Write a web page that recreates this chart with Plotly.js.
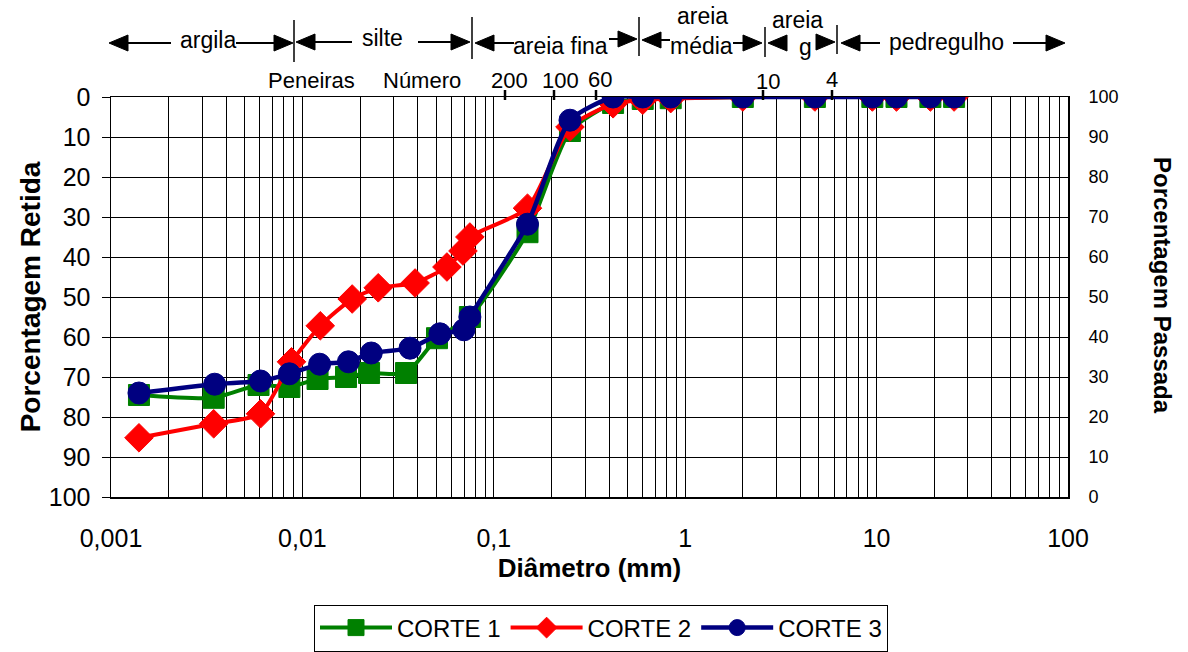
<!DOCTYPE html>
<html>
<head>
<meta charset="utf-8">
<script src="https://cdn.plot.ly/plotly-3.0.1.min.js"></script>
<style>
  html, body { margin: 0; padding: 0; background: #fff; }
  #chart { width: 1188px; height: 652px; }
</style>
</head>
<body>
<div id="chart"></div>
<script>
// ---------- data ----------
const corte1X = [0.0014, 0.00344, 0.0059, 0.00855, 0.012, 0.0169, 0.0223, 0.0348, 0.0505, 0.075, 0.15, 0.25, 0.42, 0.6, 0.84, 2.0, 4.76, 9.5, 12.7, 19.1, 25.4];
const corte1Y = [74.5, 75.2, 72, 72.5, 70.5, 70, 69, 69, 60.3, 55, 33.8, 8.5, 1.5, 0.5, 0.3, 0, 0, 0, 0, 0, 0];

const corte2X = [0.0014, 0.00344, 0.00604, 0.00877, 0.0124, 0.0182, 0.0249, 0.0388, 0.0569, 0.069, 0.075, 0.15, 0.25, 0.42, 0.6, 0.84, 2.0, 4.76, 9.5, 12.7, 19.1, 25.4];
const corte2Y = [85.2, 81.7, 79.2, 66.2, 57.2, 50.5, 47.7, 46.5, 42.5, 38.5, 35, 27.8, 7.5, 1.7, 0.8, 0.4, 0, 0, 0, 0, 0, 0];

const corte3X = [0.0014, 0.00348, 0.00604, 0.00855, 0.0123, 0.0174, 0.0229, 0.0365, 0.0523, 0.0698, 0.075, 0.15, 0.25, 0.42, 0.6, 0.84, 2.0, 4.76, 9.5, 12.7, 19.1, 25.4];
const corte3Y = [74, 71.8, 71, 69.2, 66.8, 66.2, 64, 62.8, 59.2, 58.2, 55, 31.8, 5.8, 0, 0, 0, 0, 0, 0, 0, 0, 0];

const seriesNames = ['CORTE 1', 'CORTE 2', 'CORTE 3'];
const decadeVals = [0.001, 0.01, 0.1, 1, 10, 100];
const decadeText = ['0,001', '0,01', '0,1', '1', '10', '100'];
const leftTicks = [0, 10, 20, 30, 40, 50, 60, 70, 80, 90, 100];

// top band labels (soil classes) and sieve numbers
const bandTexts = ['argila', 'silte', 'areia fina', 'areia', 'média', 'areia', 'g', 'pedregulho'];
const sieveTexts = ['Peneiras', 'Número', '200', '100', '60', '10', '4'];

// ---------- layout geometry ----------
const W = 1188, H = 652;
const M = { l: 111, r: 120, t: 97, b: 155 };
const PW = W - M.l - M.r, PH = H - M.t - M.b;
const px = x => (x - M.l) / PW;
const py = y => (H - M.b - y) / PH;

// grid tick values: every 1..9 per decade
const gridVals = [], gridText = [];
for (let d = -3; d <= 1; d++) {
  for (let k = 1; k <= 9; k++) {
    const v = +(k * Math.pow(10, d)).toPrecision(3);
    gridVals.push(v);
    const i = decadeVals.indexOf(v);
    gridText.push(i >= 0 ? decadeText[i] : '');
  }
}
gridVals.push(100); gridText.push('100');

const shapes = [];
const annotations = [];
const FF = 'Liberation Sans, Arial';

// arrows: [tailX, tipX, y]
const arrows = [
  [171, 109, 43], [236, 293, 43],
  [352, 296, 42], [418, 470, 42],
  [514, 475, 43], [609, 637, 39],
  [670, 642, 40], [733, 762, 43],
  [782, 768, 43], [817, 835, 42],
  [880, 841, 43], [1013, 1065, 43]
];
arrows.forEach(([tail, tip, y]) => {
  const dir = tip > tail ? 1 : -1;
  const base = tip - dir * 19;
  shapes.push({ type: 'line', xref: 'paper', yref: 'paper', x0: px(tail), x1: px(base), y0: py(y), y1: py(y), line: { color: '#000', width: 2 } });
  shapes.push({ type: 'path', xref: 'paper', yref: 'paper',
    path: `M ${px(tip)},${py(y)} L ${px(base)},${py(y - 8)} L ${px(base)},${py(y + 8)} Z`,
    fillcolor: '#000', line: { color: '#000', width: 1 } });
});
// dividers
[[294, 20, 62], [472, 17, 59], [639, 17, 56], [765, 27, 57], [837, 25, 54]].forEach(([x, y0, y1]) => {
  shapes.push({ type: 'line', xref: 'paper', yref: 'paper', x0: px(x), x1: px(x), y0: py(y0), y1: py(y1), line: { color: '#000', width: 1.5 } });
});
// sieve ticks
[505, 554, 596, 763, 832].forEach(x => {
  shapes.push({ type: 'line', xref: 'paper', yref: 'paper', x0: px(x), x1: px(x), y0: py(90), y1: py(100), line: { color: '#000', width: 2.5 } });
});

const bandPos = [[208, 40], [382, 38], [560, 46], [702, 16], [701, 46], [797, 20], [805, 47], [946, 42]];
bandTexts.forEach((t, i) => {
  annotations.push({ xref: 'paper', yref: 'paper', x: px(bandPos[i][0]), y: py(bandPos[i][1]), text: t, showarrow: false,
    xanchor: 'center', yanchor: 'middle', font: { family: FF, size: 23, color: '#000' } });
});
const sievePos = [[311, 80], [422, 80], [509, 80], [560, 80], [600, 79], [768, 82], [832, 79]];
sieveTexts.forEach((t, i) => {
  annotations.push({ xref: 'paper', yref: 'paper', x: px(sievePos[i][0]), y: py(sievePos[i][1]), text: t, showarrow: false,
    xanchor: 'center', yanchor: 'middle', font: { family: FF, size: 22, color: '#000' } });
});
// right axis title (reads top to bottom)
annotations.push({ xref: 'paper', yref: 'paper', x: px(1163), y: py(285), text: '<b>Porcentagem Passada</b>', textangle: 90,
  showarrow: false, xanchor: 'center', yanchor: 'middle', font: { family: FF, size: 24, color: '#000' } });

const traces = [
  { x: corte1X, y: corte1Y, name: seriesNames[0], mode: 'lines+markers', type: 'scatter',
    line: { color: '#008000', width: 4, shape: 'spline', smoothing: 0.6 },
    marker: { symbol: 'square', size: 21, color: '#008000', line: { color: '#008000', width: 1 } } },
  { x: corte2X, y: corte2Y, name: seriesNames[1], mode: 'lines+markers', type: 'scatter',
    line: { color: '#FF0000', width: 4, shape: 'spline', smoothing: 0.6 },
    marker: { symbol: 'diamond', size: 22, color: '#FF0000', line: { color: '#FF0000', width: 1 } } },
  { x: corte3X, y: corte3Y, name: seriesNames[2], mode: 'lines+markers', type: 'scatter',
    line: { color: '#000080', width: 4.5, shape: 'spline', smoothing: 0.6 },
    marker: { symbol: 'circle', size: 22, color: '#000080', line: { color: '#000080', width: 1 } } },
  { x: [decadeVals[0]], y: [leftTicks[0]], yaxis: 'y2', mode: 'markers', marker: { opacity: 0 }, showlegend: false, hoverinfo: 'skip' }
];

const layout = {
  width: W, height: H,
  margin: M,
  paper_bgcolor: '#fff', plot_bgcolor: '#fff',
  font: { family: FF, color: '#000' },
  showlegend: true,
  legend: { orientation: 'h', xref: 'container', yref: 'container', x: 601 / W, y: 1 - 628 / H, xanchor: 'center', yanchor: 'middle',
    bordercolor: '#000', borderwidth: 1, bgcolor: '#fff', font: { family: FF, size: 24, color: '#000' },
    itemwidth: 72, tracegroupgap: 0 },
  xaxis: {
    type: 'log', range: [-3, 2], autorange: false,
    tickmode: 'array', tickvals: gridVals, ticktext: gridText,
    showgrid: true, gridcolor: '#000', gridwidth: 1,
    ticks: 'outside', ticklen: 18, tickcolor: 'rgba(0,0,0,0)',
    tickfont: { family: FF, size: 25, color: '#000' },
    showline: true, linecolor: '#000', linewidth: 1.5, mirror: true, zeroline: false,
    title: { text: '<b>Diâmetro (mm)</b>', font: { family: FF, size: 26, color: '#000' }, standoff: 8 }
  },
  yaxis: {
    range: [100, 0], autorange: false,
    tickmode: 'array', tickvals: leftTicks,
    showgrid: true, gridcolor: '#000', gridwidth: 1,
    ticks: 'outside', ticklen: 8, tickcolor: '#000',
    ticklabelstandoff: 6,
    tickfont: { family: FF, size: 25, color: '#000' },
    showline: true, linecolor: '#000', linewidth: 1.5, mirror: true, zeroline: false,
    title: { text: '<b>Porcentagem Retida</b>', font: { family: FF, size: 28, color: '#000' }, standoff: 0 }
  },
  yaxis2: {
    overlaying: 'y', side: 'right', range: [0, 100], autorange: false,
    tickmode: 'array', tickvals: leftTicks,
    showgrid: false, zeroline: false, showline: false,
    ticks: 'outside', ticklen: 16, tickcolor: 'rgba(0,0,0,0)',
    tickfont: { family: FF, size: 18, color: '#000' }
  },
  shapes: shapes,
  annotations: annotations
};

Plotly.newPlot('chart', traces, layout, { displayModeBar: false, staticPlot: true });
</script>
</body>
</html>
